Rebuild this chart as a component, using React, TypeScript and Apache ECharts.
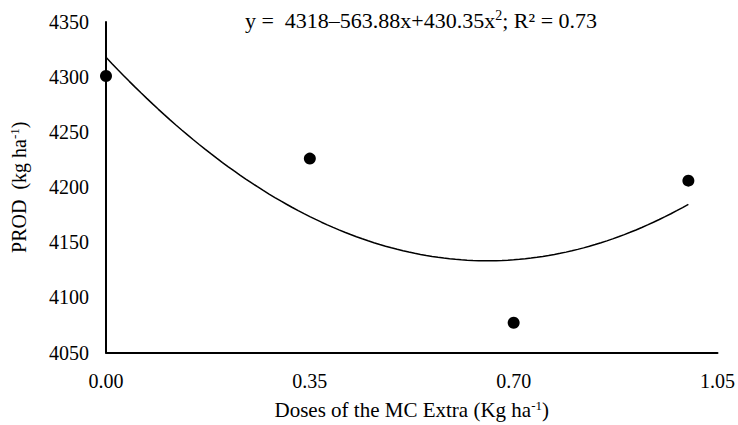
import React, { useEffect, useRef } from "react";
import * as echarts from "echarts";

const doses = [0, 0.35, 0.7, 1.0];
const prod = [4301, 4226, 4077, 4206];
const coefA = 4318;
const coefB = -563.88;
const coefC = 430.35;
const xTicks = { min: 0, max: 1.05, interval: 0.35 };
const yTicks = { min: 4050, max: 4350, interval: 50 };

const FONT = "Liberation Serif, Times New Roman, Times, serif";

export default function App() {
  const ref = useRef<HTMLDivElement>(null);
  useEffect(() => {
    if (!ref.current) return;
    const chart = echarts.init(ref.current, undefined, { renderer: "svg" });
    const xs0 = doses[0];
    const xs1 = doses[doses.length - 1];
    const curve: number[][] = [];
    const n = 100;
    for (let i = 0; i <= n; i++) {
      const x = xs0 + ((xs1 - xs0) * i) / n;
      curve.push([x, coefA + coefB * x + coefC * x * x]);
    }
    const sup = { fontSize: 13, fontFamily: FONT, color: "#000", padding: [0, 0, 9, 0] };
    chart.setOption({
      animation: false,
      backgroundColor: "#fff",
      textStyle: { fontFamily: FONT },
      grid: { left: 104, right: 20, top: 22, bottom: 66 },
      title: {
        text: "y =  4318–563.88x+430.35x{s|2}; R² = 0.73",
        left: 416,
        top: 3,
        textAlign: "center",
        textStyle: {
          fontFamily: FONT,
          fontSize: 22,
          fontWeight: "normal",
          color: "#000",
          rich: { s: { ...sup, fontSize: 14, padding: [0, 0, 10, 0] } },
        },
      },
      xAxis: {
        type: "value",
        min: xTicks.min,
        max: xTicks.max,
        interval: xTicks.interval,
        name: "Doses of the MC Extra (Kg ha{s|-1})",
        nameLocation: "middle",
        nameGap: 46,
        nameTextStyle: {
          fontFamily: FONT,
          fontSize: 21,
          color: "#000",
          rich: { s: sup },
        },
        axisLine: { show: true, lineStyle: { color: "#000", width: 2 } },
        axisTick: { show: false },
        splitLine: { show: false },
        axisLabel: {
          fontFamily: FONT,
          fontSize: 20,
          color: "#000",
          margin: 18,
          formatter: (v: number) => v.toFixed(2),
        },
      },
      yAxis: {
        type: "value",
        min: yTicks.min,
        max: yTicks.max,
        interval: yTicks.interval,
        name: "PROD  (kg ha{s|-1})",
        nameLocation: "middle",
        nameGap: 76,
        nameTextStyle: {
          fontFamily: FONT,
          fontSize: 20,
          color: "#000",
          rich: { s: sup },
        },
        axisLine: { show: true, lineStyle: { color: "#000", width: 2 } },
        axisTick: { show: false },
        splitLine: { show: false },
        axisLabel: {
          fontFamily: FONT,
          fontSize: 20,
          color: "#000",
          margin: 17,
          formatter: (v: number) => String(v),
        },
      },
      series: [
        {
          type: "line",
          data: curve,
          showSymbol: false,
          symbol: "none",
          lineStyle: { color: "#000", width: 1.5 },
          z: 2,
        },
        {
          type: "scatter",
          data: doses.map((d, i) => [d, prod[i]]),
          symbol: "circle",
          symbolSize: 12,
          itemStyle: { color: "#000", opacity: 1 },
          z: 3,
        },
      ],
    });
    return () => chart.dispose();
  }, []);
  return (
    <div
      ref={ref}
      style={{ position: "fixed", left: 0, top: 0, width: 738, height: 425, background: "#fff" }}
    />
  );
}
